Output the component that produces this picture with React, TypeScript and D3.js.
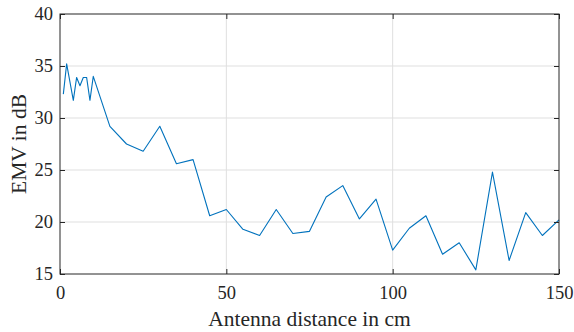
import React, { useEffect, useRef } from "react";
import * as d3 from "d3";

// antenna distance (cm) and measured EMV (dB)
const distance = [1, 2, 4, 5, 6, 7, 8, 9, 10, 15, 20, 25, 30, 35, 40, 45, 50, 55, 60, 65, 70, 75, 80, 85, 90, 95, 100, 105, 110, 115, 120, 125, 130, 135, 140, 145, 150];
const emv = [32.3, 35.2, 31.7, 33.9, 33.1, 33.9, 33.9, 31.7, 34.0, 29.2, 27.5, 26.8, 29.2, 25.6, 26.0, 20.6, 21.2, 19.3, 18.7, 21.2, 18.9, 19.1, 22.4, 23.5, 20.3, 22.2, 17.3, 19.4, 20.6, 16.9, 18.0, 15.4, 24.8, 16.3, 20.9, 18.7, 20.2];
const xTicks = [0, 50, 100, 150];
const yTicks = [15, 20, 25, 30, 35, 40];

const W = 574, H = 332;
const m = { left: 60, right: 15, top: 14, bottom: 58 };
const FONT = "'Liberation Serif', 'Times New Roman', serif";

export default function App() {
  const ref = useRef<SVGSVGElement>(null);

  useEffect(() => {
    const svg = d3.select(ref.current);
    svg.selectAll("*").remove();
    const iw = W - m.left - m.right, ih = H - m.top - m.bottom;

    const x = d3.scaleLinear().domain([0, 150]).range([0, iw]);
    const y = d3.scaleLinear().domain([15, 40]).range([ih, 0]);

    const g = svg.append("g").attr("transform", `translate(${m.left},${m.top})`);
    g.append("rect").attr("width", iw).attr("height", ih).attr("fill", "#fff");

    // grid
    g.selectAll(".gx").data(xTicks.slice(1, -1)).enter().append("line")
      .attr("x1", d => x(d)).attr("x2", d => x(d)).attr("y1", 0).attr("y2", ih)
      .attr("stroke", "#dfdfdf").attr("stroke-width", 1);
    g.selectAll(".gy").data(yTicks.slice(1, -1)).enter().append("line")
      .attr("y1", d => y(d)).attr("y2", d => y(d)).attr("x1", 0).attr("x2", iw)
      .attr("stroke", "#dfdfdf").attr("stroke-width", 1);

    // line
    const line = d3.line<number>().x((d, i) => x(distance[i])).y(d => y(d));
    g.append("path").datum(emv).attr("d", line)
      .attr("fill", "none").attr("stroke", "#0072BD").attr("stroke-width", 1.1)
      .attr("stroke-linejoin", "round");

    // axes (ticks inside, box)
    const bottom = g.append("g").attr("transform", `translate(0,${ih})`)
      .call(d3.axisBottom(x).tickValues(xTicks).tickSizeInner(-5).tickSizeOuter(0).tickPadding(10));
    const left = g.append("g")
      .call(d3.axisLeft(y).tickValues(yTicks).tickSizeInner(-5).tickSizeOuter(0).tickPadding(10));
    g.append("g").attr("transform", `translate(${iw},0)`)
      .call(d3.axisRight(y).tickValues(yTicks).tickSizeInner(-5).tickSizeOuter(0).tickFormat(() => ""));
    g.append("g")
      .call(d3.axisTop(x).tickValues(xTicks).tickSizeInner(-5).tickSizeOuter(0).tickFormat(() => ""));
    g.selectAll(".domain").remove();
    g.selectAll(".tick line").attr("stroke", "#262626");
    [bottom, left].forEach(a => {
      a.attr("font-family", null).attr("font-size", null);
      a.selectAll("text")
        .style("font-family", FONT)
        .style("font-size", "18.5px").attr("fill", "#262626");
    });
    left.selectAll("text").attr("dx", 3);
    bottom.selectAll("text").attr("dy", 15);

    g.append("rect").attr("width", iw).attr("height", ih)
      .attr("fill", "none").attr("stroke", "#262626").attr("stroke-width", 1);

    svg.append("text")
      .attr("x", m.left + iw / 2).attr("y", 326)
      .attr("text-anchor", "middle")
      .style("font-family", FONT)
      .style("font-size", "21.5px").attr("fill", "#262626")
      .text("Antenna distance in cm");

    svg.append("text")
      .attr("transform", `translate(26,${m.top + ih / 2}) rotate(-90)`)
      .attr("text-anchor", "middle")
      .style("font-family", FONT)
      .style("font-size", "21.5px").attr("fill", "#262626")
      .text("EMV in dB");
  }, []);

  return (
    <svg ref={ref} width={W} height={H}
      style={{ position: "absolute", left: 0, top: 0, background: "#fff" }} />
  );
}
